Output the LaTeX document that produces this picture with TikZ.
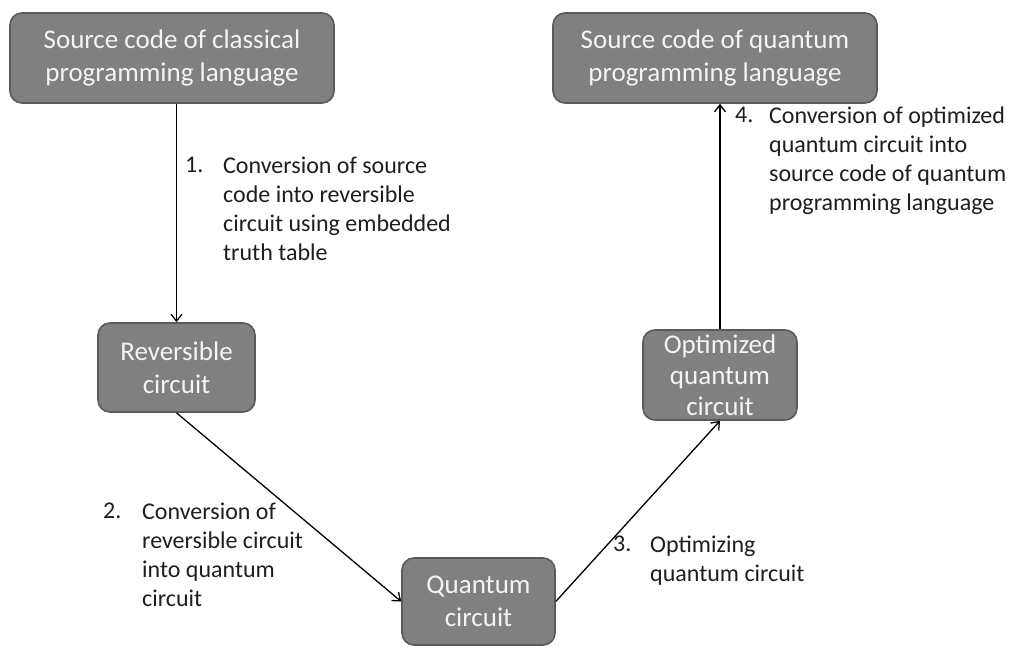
\documentclass[tikz,border=0pt]{standalone}
\usepackage{fontspec}
\setmainfont{Carlito}
\usetikzlibrary{positioning,arrows.meta}
\definecolor{boxfill}{HTML}{808080}
\definecolor{boxline}{HTML}{5A5A5A}
\definecolor{boxtext}{HTML}{F4F4F4}
\definecolor{notetext}{HTML}{1E1E1E}

\begin{document}
\begin{tikzpicture}[x=1pt, y=-1pt,
        block/.style={draw=boxline, line width=1.6pt, fill=boxfill, rounded corners=12pt, text=boxtext, align=center, inner sep=0pt, font=\fontsize{27}{33}\selectfont},
        note/.style={anchor=north west, inner sep=0pt, align=left, text=notetext, font=\fontsize{24}{29}\selectfont},
        >={Straight Barb[length=7pt,width=11pt]}
    ]
        \useasboundingbox (0,0) rectangle (1010,646);

        % Boxes
        \node [block, minimum width=324pt, minimum height=90pt] (classic) at (172,58) {Source code of classical\\programming language};
        \node [block, minimum width=324pt, minimum height=90pt] (qsource) at (715,58) {Source code of quantum\\programming language};
        \node [block, minimum width=157pt, minimum height=89pt] (revcirc) at (176.5,367.5) {Reversible\\circuit};
        \node [block, minimum width=153pt, minimum height=87pt] (qcirc) at (478.5,601.5) {Quantum\\circuit};
        \node [block, minimum width=154pt, minimum height=90pt, font=\fontsize{27}{31}\selectfont] (optcirc) at (720,375) {Optimized\\quantum\\circuit};

        % Connectors
        \draw [->, line width=1.3pt] (classic.south -| revcirc.north) -- (revcirc.north);
        \draw [->, line width=1.3pt] (revcirc.south) -- (qcirc.west);
        \draw [->, line width=1.3pt] (qcirc.east) -- (optcirc.south);
        \draw [->, line width=1.3pt] (optcirc.north) -- (qsource.south -| optcirc.north);

        % Step labels
        \node [note] (num1) at (185,157) {1.};
        \node [note] (step1) at (223,157) {Conversion of source\\code into reversible\\circuit using embedded\\truth table};
        \node [note] (num2) at (103,503) {2.};
        \node [note] (step2) at (142,503) {Conversion of\\reversible circuit\\into quantum\\circuit};
        \node [note] (num3) at (613,536) {3.};
        \node [note] (step3) at (650,536) {Optimizing\\quantum circuit};
        \node [note] (num4) at (735,107) {4.};
        \node [note] (step4) at (769,107) {Conversion of optimized\\quantum circuit into\\source code of quantum\\programming language};
    \end{tikzpicture}
\end{document}
